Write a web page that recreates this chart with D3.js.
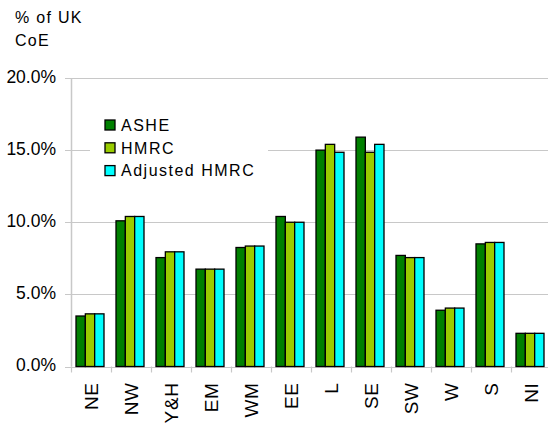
<!DOCTYPE html>
<html>
<head>
<meta charset="utf-8">
<script src="https://cdn.jsdelivr.net/npm/d3@7"></script>
<style>
  body { margin: 0; background: #fff; }
  text { font-family: "Liberation Sans", Arial, sans-serif; fill: #000; }
</style>
</head>
<body>
<svg class="chart"></svg>
<script>
const categories = ["NE", "NW", "Y&H", "EM", "WM", "EE", "L", "SE", "SW", "W", "S", "NI"];
const seriesNames = ["ASHE", "HMRC", "Adjusted HMRC"];
const ashe = [3.5, 10.1, 7.55, 6.75, 8.25, 10.4, 15.0, 15.9, 7.7, 3.9, 8.5, 2.3];
const hmrc = [3.65, 10.4, 7.95, 6.75, 8.35, 10.0, 15.4, 14.85, 7.55, 4.05, 8.6, 2.3];
const adjusted = [3.65, 10.4, 7.95, 6.75, 8.35, 10.0, 14.85, 15.4, 7.55, 4.05, 8.6, 2.3];
const yTicks = [0, 5, 10, 15, 20];
const colors = ["#008000", "#99cc00", "#00ffff"];

const
  margin = {top: 78, left: 71},
  width = 480,
  height = 288.5;

const rows = categories.map((c, i) => ({cat: c, vals: [ashe[i], hmrc[i], adjusted[i]]}));

const svg = d3.select(".chart")
  .attr("width", 548)
  .attr("height", 425);

const xScale = d3.scaleBand()
  .domain(categories)
  .range([0, width]);

const xInner = d3.scaleBand()
  .domain(d3.range(seriesNames.length))
  .range([5, 33]);

const yScale = d3.scaleLinear()
  .domain([0, 20])
  .range([height, 0]);

const g = svg.append("g")
  .attr("transform", `translate(${margin.left},${margin.top})`);

// gridlines
g.append("g")
  .selectAll("line")
  .data(yTicks)
  .enter()
  .append("line")
    .attr("x1", -6)
    .attr("x2", width)
    .attr("y1", d => Math.round(yScale(d)) + 0.5)
    .attr("y2", d => Math.round(yScale(d)) + 0.5)
    .attr("stroke", "#c8c8c8")
    .attr("stroke-width", 1.2);

// y axis line
g.append("line")
  .attr("x1", 0.5).attr("x2", 0.5)
  .attr("y1", 0).attr("y2", height)
  .attr("stroke", "#c8c8c8")
  .attr("stroke-width", 1.5);

// y tick labels
g.append("g")
  .selectAll("text")
  .data(yTicks)
  .enter()
  .append("text")
    .attr("x", -15)
    .attr("y", d => yScale(d) - 1.5)
    .attr("dy", "0.36em")
    .attr("text-anchor", "end")
    .style("font-size", "17.5px")
    .text(d => d.toFixed(1) + "%");

// x ticks
g.append("g")
  .selectAll("line")
  .data(categories)
  .enter()
  .append("line")
    .attr("x1", d => Math.round(xScale(d)) + 0.5)
    .attr("x2", d => Math.round(xScale(d)) + 0.5)
    .attr("y1", height)
    .attr("y2", height + 6)
    .attr("stroke", "#c8c8c8")
    .attr("stroke-width", 1.2);

// bars
g.append("g")
  .selectAll("g")
  .data(rows)
  .enter()
  .append("g")
    .attr("transform", d => `translate(${xScale(d.cat)},0)`)
  .selectAll("rect")
  .data(d => d.vals)
  .enter()
  .append("rect")
    .attr("x", (d, i) => xInner(i))
    .attr("y", d => yScale(d))
    .attr("width", xInner.bandwidth())
    .attr("height", d => height - yScale(d))
    .attr("fill", (d, i) => colors[i])
    .attr("stroke", "#000")
    .attr("stroke-width", 1.3);

// x labels
g.append("g")
  .selectAll("text")
  .data(categories)
  .enter()
  .append("text")
    .attr("transform", d => `translate(${xScale(d) + xScale.bandwidth() / 2 + 6.5},${height + 16}) rotate(-90)`)
    .attr("text-anchor", "end")
    .style("font-size", "19px")
    .style("letter-spacing", "0.6px")
    .text(d => d);

// legend
const legend = svg.append("g")
  .attr("transform", "translate(90,110)");

legend.append("rect")
  .attr("width", 178)
  .attr("height", 74)
  .attr("fill", "#fff");

const item = legend.selectAll(".item")
  .data(seriesNames)
  .enter()
  .append("g")
    .attr("class", "item")
    .attr("transform", (d, i) => `translate(15,${10 + i * 22.8})`);

item.append("rect")
  .attr("width", 10)
  .attr("height", 10)
  .attr("fill", (d, i) => colors[i])
  .attr("stroke", "#000")
  .attr("stroke-width", 1.3);

item.append("text")
  .attr("x", 16)
  .attr("y", 5)
  .attr("dy", "0.36em")
  .style("font-size", "16px")
  .style("letter-spacing", "1.5px")
  .text(d => d);

// axis title
svg.append("text")
  .attr("x", 15)
  .attr("y", 23)
  .style("font-size", "16px")
  .style("letter-spacing", "1.3px")
  .text("% of UK");

svg.append("text")
  .attr("x", 15)
  .attr("y", 46)
  .style("font-size", "16px")
  .style("letter-spacing", "1.3px")
  .text("CoE");
</script>
</body>
</html>
